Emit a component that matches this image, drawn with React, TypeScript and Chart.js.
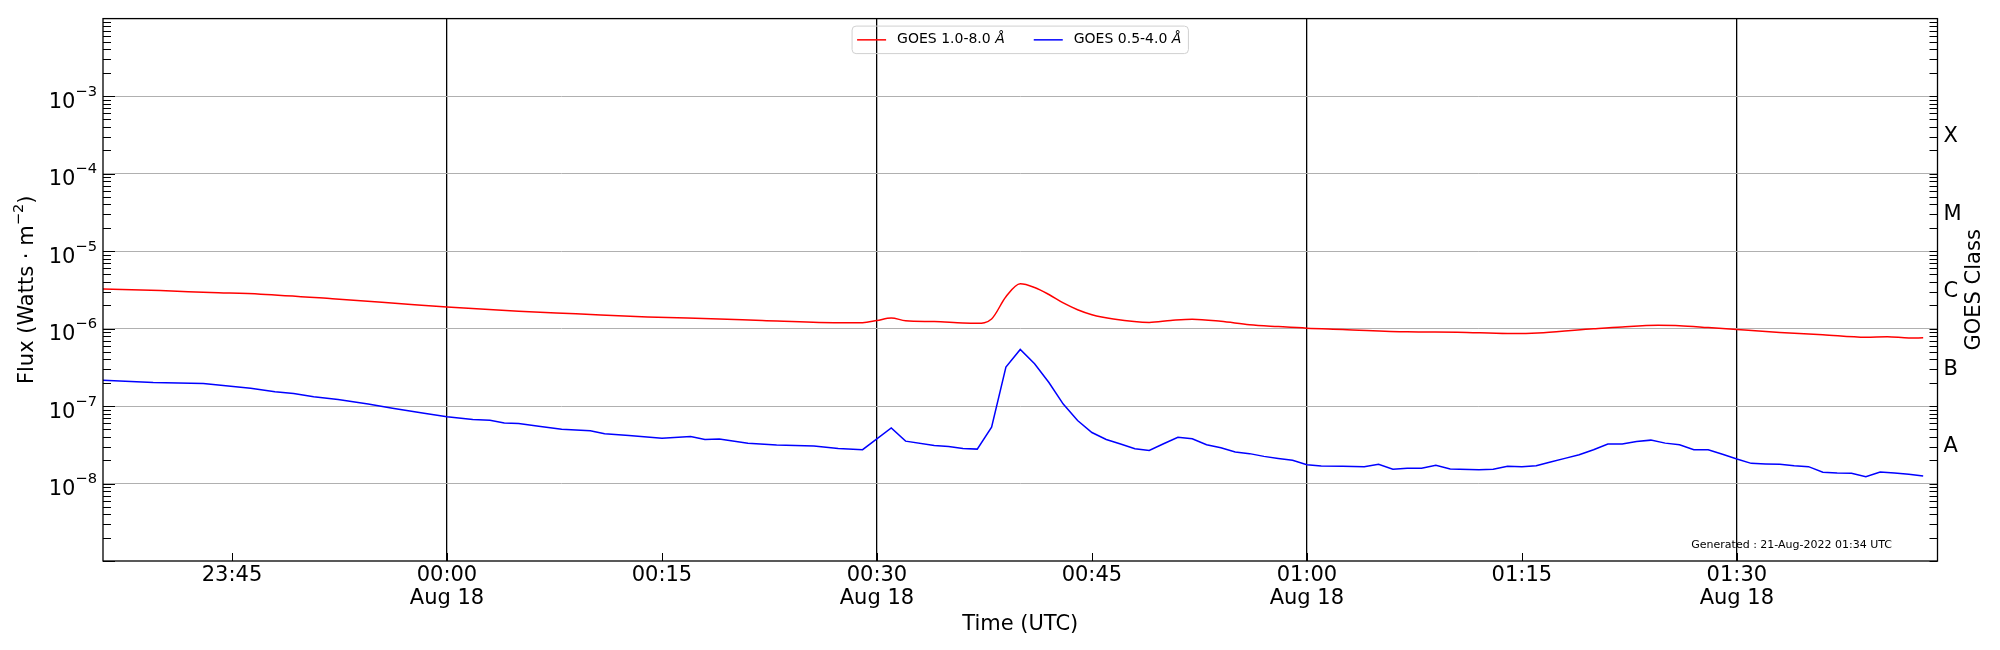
import { useEffect, useRef } from "react";
import { Chart, registerables } from "chart.js";
import type { ChartConfiguration, Plugin } from "chart.js";

Chart.register(...registerables);

const FONT = "'DejaVu Sans', 'Noto Sans', sans-serif";

// minutes relative to 18-Aug-2022 00:00 UTC
const longMinutes = [
  -24, -20, -16.5, -13, -8, -2.5, 0, 5, 9, 14, 19, 22, 27, 29, 30, 31, 32, 34, 36, 37, 38, 39, 40, 41, 42, 43, 44, 45,
  46.5, 49, 50.5, 52, 54, 56, 58, 60, 62.5, 67, 70.5, 74, 76.5, 80, 82, 84.5, 86, 88, 90, 93, 96, 99, 100.5, 102, 103,
];
const longFlux = [
  3.24e-6, 3.09e-6, 2.92e-6, 2.78e-6, 2.43e-6, 2.05e-6, 1.9e-6, 1.67e-6, 1.55e-6, 1.41e-6, 1.33e-6, 1.27e-6, 1.19e-6,
  1.19e-6, 1.27e-6, 1.37e-6, 1.26e-6, 1.23e-6, 1.18e-6, 1.17e-6, 1.33e-6, 2.57e-6, 3.78e-6, 3.39e-6, 2.75e-6, 2.14e-6,
  1.75e-6, 1.51e-6, 1.33e-6, 1.2e-6, 1.27e-6, 1.32e-6, 1.24e-6, 1.12e-6, 1.06e-6, 1.01e-6, 9.75e-7, 9.06e-7, 8.97e-7,
  8.63e-7, 8.85e-7, 9.91e-7, 1.05e-6, 1.1e-6, 1.09e-6, 1.03e-6, 9.7e-7, 8.91e-7, 8.32e-7, 7.71e-7, 7.85e-7, 7.55e-7,
  7.59e-7,
];

const shortMinutes = [
  -24, -20.5, -17, -13.7, -12, -10.7, -9.3, -7.6, -5.5, -3.8, -1.6, 0, 1.8, 3, 4, 5, 6.4, 8, 10, 11, 12.7, 15, 17, 18,
  19, 21, 23, 25.6, 27.3, 29, 31, 32, 34, 35, 36, 37, 38, 39, 40, 41, 42, 43, 44, 45, 46, 47, 48, 49, 50, 51, 52, 53,
  54, 55, 56, 57, 58, 59, 60, 61, 62.5, 64, 65, 66, 67, 68, 69, 70, 72, 73, 74, 75, 76, 77, 78, 79, 80, 81, 82, 83, 84,
  85, 86, 87, 88, 89, 90, 91, 92, 93, 94, 95, 96, 97, 98, 99, 100, 101, 102, 103,
];
const shortFlux = [
  2.15e-7, 2.01e-7, 1.95e-7, 1.7e-7, 1.53e-7, 1.45e-7, 1.32e-7, 1.21e-7, 1.06e-7, 9.33e-8, 8.05e-8, 7.29e-8, 6.68e-8,
  6.55e-8, 6.05e-8, 5.94e-8, 5.48e-8, 5.02e-8, 4.79e-8, 4.38e-8, 4.17e-8, 3.85e-8, 4.05e-8, 3.7e-8, 3.74e-8, 3.32e-8,
  3.13e-8, 3.04e-8, 2.84e-8, 2.73e-8, 5.22e-8, 3.52e-8, 3.1e-8, 3.01e-8, 2.84e-8, 2.78e-8, 5.32e-8, 3.19e-7, 5.38e-7,
  3.52e-7, 2.01e-7, 1.06e-7, 6.49e-8, 4.55e-8, 3.7e-8, 3.23e-8, 2.81e-8, 2.67e-8, 3.26e-8, 3.96e-8, 3.78e-8, 3.16e-8,
  2.9e-8, 2.55e-8, 2.43e-8, 2.24e-8, 2.11e-8, 1.99e-8, 1.75e-8, 1.68e-8, 1.67e-8, 1.65e-8, 1.77e-8, 1.53e-8, 1.57e-8,
  1.57e-8, 1.72e-8, 1.54e-8, 1.5e-8, 1.53e-8, 1.67e-8, 1.64e-8, 1.7e-8, 1.9e-8, 2.11e-8, 2.35e-8, 2.73e-8, 3.23e-8,
  3.23e-8, 3.49e-8, 3.63e-8, 3.32e-8, 3.16e-8, 2.73e-8, 2.73e-8, 2.38e-8, 2.07e-8, 1.82e-8, 1.79e-8, 1.77e-8, 1.7e-8,
  1.65e-8, 1.4e-8, 1.37e-8, 1.36e-8, 1.22e-8, 1.41e-8, 1.37e-8, 1.32e-8, 1.25e-8,
];

const xTickMinutes = [-15, 0, 15, 30, 45, 60, 75, 90];
const xTickLabels = ["23:45", "00:00", "00:15", "00:30", "00:45", "01:00", "01:15", "01:30"];
const xTickDates = ["", "Aug 18", "", "Aug 18", "", "Aug 18", "", "Aug 18"];

const fluxTicks = [1e-8, 1e-7, 1e-6, 1e-5, 1e-4, 1e-3];
const fluxTickExponents = ["−8", "−7", "−6", "−5", "−4", "−3"];

const classTicks = [3e-8, 3e-7, 3e-6, 3e-5, 3e-4];
const classLabels = ["A", "B", "C", "M", "X"];

const seriesLabels = ["GOES 1.0-8.0 ", "GOES 0.5-4.0 "];
const seriesColors = ["#ff0000", "#0000ff"];
const generatedText = "Generated : 21-Aug-2022 01:34 UTC";

const MAIN = `21px ${FONT}`;
const SUP = `14.7px ${FONT}`;

// inward ticks, frame, mathtext-like labels, legend and footnote
const goesDecor: Plugin<"line"> = {
  id: "goesDecor",
  afterDraw(chart) {
    const { ctx, chartArea: a, scales } = chart;
    const y = scales.y;
    const x = scales.x;
    ctx.save();

    ctx.strokeStyle = "#000";
    ctx.lineWidth = 1;
    ctx.beginPath();
    for (let d = -9; d <= -3; d++) {
      for (let k = 1; k <= 9; k++) {
        const v = k * Math.pow(10, d);
        if (v > 1.0001e-2) continue;
        const py = Math.round(y.getPixelForValue(v)) + 0.5;
        ctx.moveTo(a.left, py);
        ctx.lineTo(a.left + (k === 1 ? 12 : 8), py);
        ctx.moveTo(a.right, py);
        ctx.lineTo(a.right - 8, py);
      }
    }
    for (const m of xTickMinutes) {
      const px = Math.round(x.getPixelForValue(m)) + 0.5;
      ctx.moveTo(px, a.bottom);
      ctx.lineTo(px, a.bottom - 8);
    }
    ctx.stroke();

    ctx.lineWidth = 1.3;
    ctx.strokeRect(a.left, a.top, a.right - a.left, a.bottom - a.top);

    ctx.fillStyle = "#000";
    ctx.textBaseline = "alphabetic";

    // left tick labels 10^n
    ctx.textAlign = "left";
    fluxTicks.forEach((v, i) => {
      const py = y.getPixelForValue(v);
      ctx.font = SUP;
      const ws = ctx.measureText(fluxTickExponents[i]).width;
      ctx.font = MAIN;
      const wm = ctx.measureText("10").width;
      const x0 = a.left - 6 - ws - wm;
      ctx.fillText("10", x0, py + 11.5);
      ctx.font = SUP;
      ctx.fillText(fluxTickExponents[i], x0 + wm, py - 0.5);
    });

    // left axis title with superscript
    {
      const parts: [string, string, number][] = [
        ["Flux (Watts · m", MAIN, 0],
        ["−2", SUP, -9],
        [")", MAIN, 0],
      ];
      const ws = parts.map(([t, f]) => {
        ctx.font = f;
        return ctx.measureText(t).width;
      });
      const total = ws.reduce((s, w) => s + w, 0);
      ctx.save();
      ctx.translate(28, (a.top + a.bottom) / 2);
      ctx.rotate(-Math.PI / 2);
      ctx.textBaseline = "middle";
      let px = -total / 2;
      parts.forEach(([t, f, dy], i) => {
        ctx.font = f;
        ctx.fillText(t, px, dy);
        px += ws[i];
      });
      ctx.restore();
    }

    // right axis title
    ctx.font = MAIN;
    ctx.textAlign = "center";
    ctx.textBaseline = "middle";
    ctx.save();
    ctx.translate(a.right + 37, (a.top + a.bottom) / 2);
    ctx.rotate(-Math.PI / 2);
    ctx.fillText("GOES Class", 0, 0);
    ctx.restore();

    // legend
    const normal = `14px ${FONT}`;
    const italic = `italic 14px ${FONT}`;
    const widths = seriesLabels.map((s) => {
      ctx.font = normal;
      const w = ctx.measureText(s).width;
      ctx.font = italic;
      return w + ctx.measureText("Å").width;
    });
    const lineLen = 29;
    const gap = 11;
    const entryGap = 29;
    const padL = 5;
    const padR = 7;
    const total = padL + lineLen + gap + widths[0] + entryGap + lineLen + gap + widths[1] + padR;
    const boxLeft = (a.left + a.right) / 2 - total / 2;
    const boxTop = a.top + 7.5;
    const boxH = 27.5;
    ctx.strokeStyle = "#d0d0d0";
    ctx.lineWidth = 1;
    ctx.beginPath();
    ctx.roundRect(boxLeft, boxTop, total, boxH, 4);
    ctx.stroke();
    const cy = boxTop + boxH / 2;
    let cx = boxLeft + padL;
    seriesLabels.forEach((s, i) => {
      ctx.strokeStyle = seriesColors[i];
      ctx.lineWidth = 1.5;
      ctx.beginPath();
      ctx.moveTo(cx, cy);
      ctx.lineTo(cx + lineLen, cy);
      ctx.stroke();
      cx += lineLen + gap;
      ctx.fillStyle = "#000";
      ctx.textAlign = "left";
      ctx.font = normal;
      ctx.fillText(s, cx, cy);
      const w = ctx.measureText(s).width;
      ctx.font = italic;
      ctx.fillText("Å", cx + w, cy);
      cx += widths[i] + entryGap;
    });

    // footnote
    ctx.font = `11px ${FONT}`;
    ctx.textAlign = "right";
    ctx.fillStyle = "#000";
    ctx.fillText(generatedText, a.right - 45.5, a.bottom - 16);

    ctx.restore();
  },
};

export default function App() {
  const canvasRef = useRef<HTMLCanvasElement | null>(null);

  useEffect(() => {
    const ctx = canvasRef.current!.getContext("2d")!;

    const config: ChartConfiguration<"line", { x: number; y: number }[]> = {
      type: "line",
      data: {
        datasets: [
          {
            label: "GOES 1.0-8.0 Å",
            data: longMinutes.map((m, i) => ({ x: m, y: longFlux[i] })),
            borderColor: seriesColors[0],
            borderWidth: 1.5,
            pointRadius: 0,
            cubicInterpolationMode: "monotone",
            yAxisID: "y",
          },
          {
            label: "GOES 0.5-4.0 Å",
            data: shortMinutes.map((m, i) => ({ x: m, y: shortFlux[i] })),
            borderColor: seriesColors[1],
            borderWidth: 1.5,
            pointRadius: 0,
            tension: 0,
            yAxisID: "y",
          },
        ],
      },
      options: {
        responsive: true,
        maintainAspectRatio: false,
        animation: false,
        color: "#000",
        layout: { padding: { top: 15, left: 0, right: 0, bottom: 0 } },
        plugins: {
          legend: { display: false },
          tooltip: { enabled: false },
        },
        scales: {
          x: {
            type: "linear",
            min: -24,
            max: 104,
            afterBuildTicks: (s) => {
              s.ticks = xTickMinutes.map((v) => ({ value: v }));
            },
            afterFit: (s) => {
              s.height = 89;
            },
            ticks: {
              autoSkip: false,
              maxRotation: 0,
              padding: 2.5,
              color: "#000",
              font: { family: FONT, size: 21, lineHeight: 1.1 },
              callback: (_v, i) => (xTickDates[i] ? [xTickLabels[i], xTickDates[i]] : xTickLabels[i]),
            },
            grid: {
              drawTicks: false,
              lineWidth: 1.3,
              color: (c) => (c.tick && c.tick.value % 30 === 0 ? "#000" : "rgba(0,0,0,0)"),
            },
            border: { display: false },
            title: {
              display: true,
              text: "Time (UTC)",
              color: "#000",
              font: { family: FONT, size: 21 },
              padding: { top: 0, bottom: 13 },
            },
          },
          y: {
            type: "logarithmic",
            position: "left",
            min: 1e-9,
            max: 1e-2,
            afterBuildTicks: (s) => {
              s.ticks = fluxTicks.map((v) => ({ value: v }));
            },
            afterFit: (s) => {
              s.width = 103;
            },
            ticks: { display: false },
            grid: { drawTicks: false, color: "#b0b0b0", lineWidth: 1 },
            border: { display: false },
          },
          yClass: {
            type: "logarithmic",
            position: "right",
            min: 1e-9,
            max: 1e-2,
            afterBuildTicks: (s) => {
              s.ticks = classTicks.map((v) => ({ value: v }));
            },
            afterFit: (s) => {
              s.width = 62.5;
            },
            ticks: {
              padding: 6,
              color: "#000",
              font: { family: FONT, size: 21 },
              callback: (_v, i) => classLabels[i],
            },
            grid: { display: false, drawOnChartArea: false, drawTicks: false },
            border: { display: false },
          },
        },
      },
      plugins: [goesDecor],
    };

    const chart = new Chart(ctx, config);
    return () => chart.destroy();
  }, []);

  return (
    <div style={{ position: "absolute", left: 0, top: 0, width: 2000, height: 650, background: "#fff" }}>
      <canvas ref={canvasRef} />
    </div>
  );
}
